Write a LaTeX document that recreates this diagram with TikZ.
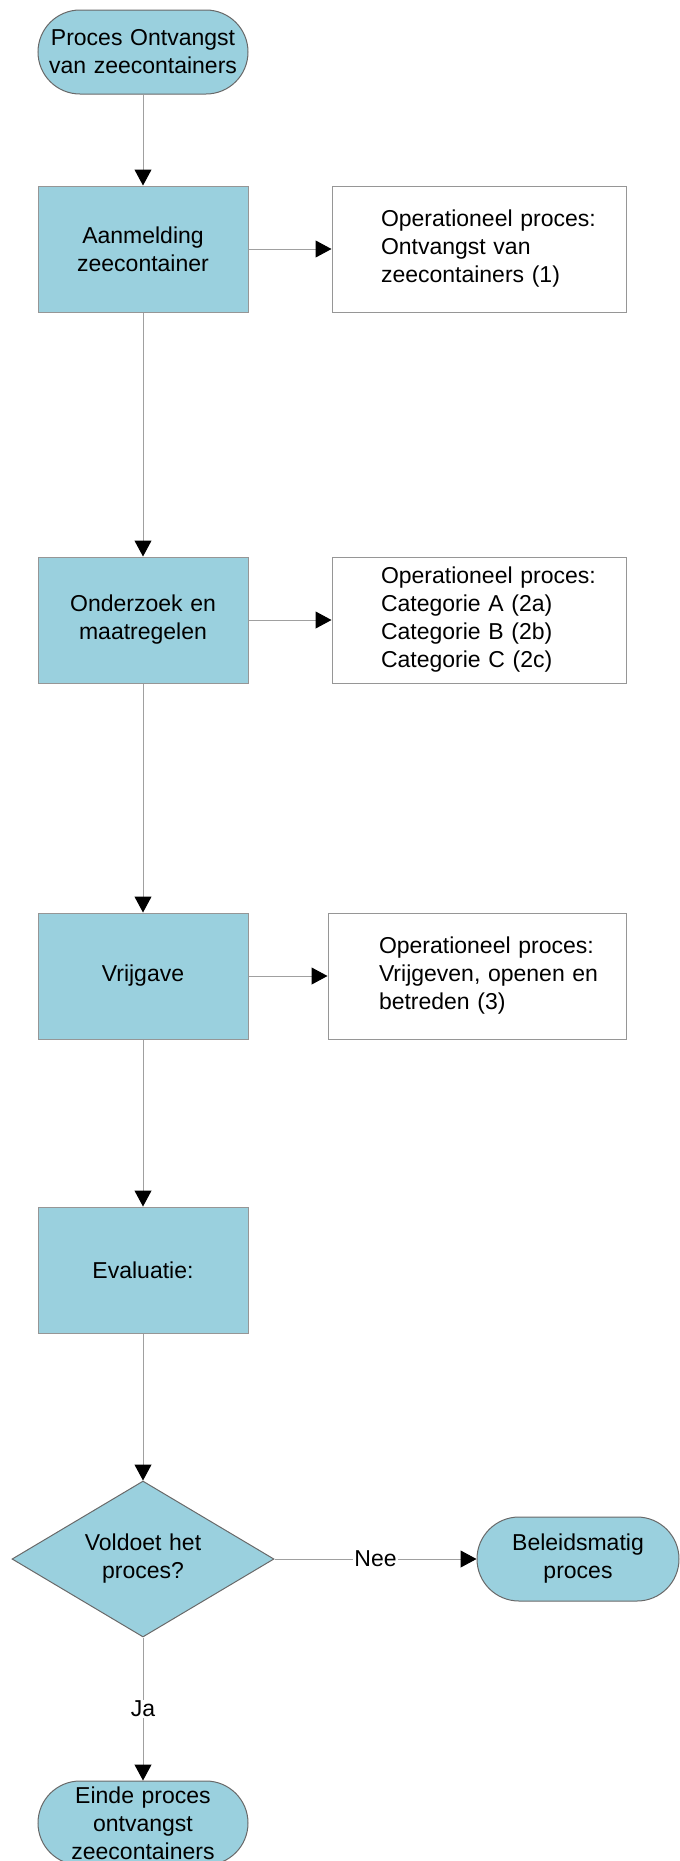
\documentclass[tikz,border=0pt]{standalone}
\usepackage{fontspec}
\setmainfont{Liberation Sans}
\usepackage{tikz}
\usetikzlibrary{shapes.geometric}
\usetikzlibrary{arrows.meta}
\definecolor{procblue}{RGB}{154,208,222}
\definecolor{linegray}{RGB}{160,160,160}
\definecolor{edgegray}{RGB}{105,105,105}
\newcommand{\Op}[1]{{\leftskip=37pt Operationeel proces:\\#1\par}}

\begin{document}
\begin{tikzpicture}[x=1pt,y=-1pt,
  font=\fontsize{23}{28}\selectfont,
  base/.style={draw,fill=procblue,line width=1pt,inner sep=0pt,align=center,text width=200pt},
  proc/.style={base,draw=edgegray!70,rectangle,minimum width=210pt,minimum height=126pt},
  term/.style={base,draw=edgegray,rectangle,rounded corners=42pt,minimum width=210pt,minimum height=84pt},
  info/.style={draw=edgegray!70,line width=1pt,rectangle,minimum height=126pt,inner sep=0pt,text width=270pt,align=left},
  choice/.style={base,draw=edgegray,diamond,aspect=1.68,minimum width=262pt,minimum height=156pt,text width=150pt},
  flow/.style={color=linegray,line width=1pt,-{Triangle[length=16pt,width=17pt,color=black,fill=black]}},
  tag/.style={fill=white,text=black,inner sep=1pt}]
  \useasboundingbox (0,0) rectangle (680,1861);
  \node[term] (start) at (143,52) {Proces Ontvangst\\van zeecontainers};
  \node[proc] (aanmelding) at (143,249) {Aanmelding\\zeecontainer};
  \node[info,minimum width=294pt] (op1) at (479,249) {\Op{Ontvangst van\\zeecontainers (1)}};
  \node[proc] (onderzoek) at (143,620) {Onderzoek en\\maatregelen};
  \node[info,minimum width=294pt] (op2) at (479,620) {\Op{Categorie A (2a)\\Categorie B (2b)\\Categorie C (2c)}};
  \node[proc] (vrijgave) at (143,976) {Vrijgave};
  \node[info,minimum width=298pt] (op3) at (477,976) {\Op{Vrijgeven, openen en\\betreden (3)}};
  \node[proc] (evaluatie) at (143,1270) {Evaluatie:};
  \node[choice] (voldoet) at (143,1559) {Voldoet het\\proces?};
  \node[term,minimum width=202pt] (beleid) at (578,1559) {Beleidsmatig\\proces};
  \node[term] (einde) at (143,1823) {Einde proces\\ontvangst\\zeecontainers};
  \path[flow]
    (start) edge (aanmelding)
    (aanmelding) edge (onderzoek)
    (onderzoek) edge (vrijgave)
    (vrijgave) edge (evaluatie)
    (evaluatie) edge (voldoet)
    (aanmelding) edge (op1)
    (onderzoek) edge (op2)
    (vrijgave) edge (op3)
    (voldoet) edge node[tag] {Nee} (beleid)
    (voldoet) edge node[tag] {Ja} (einde);
\end{tikzpicture}
\end{document}
